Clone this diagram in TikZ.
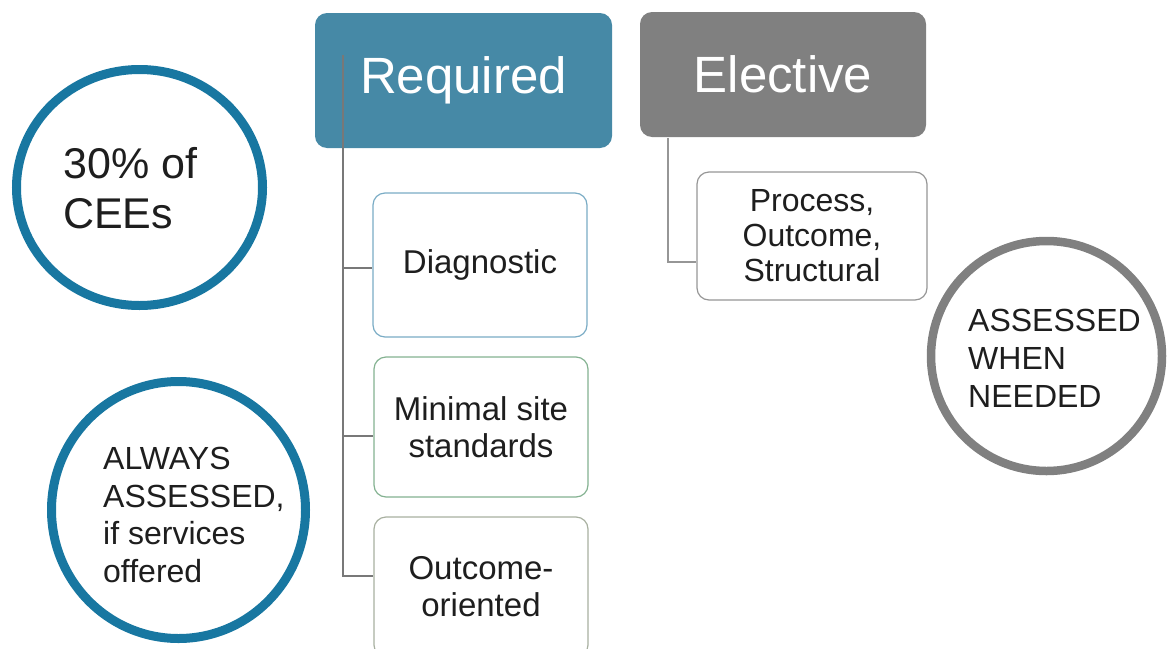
\documentclass[tikz,border=0pt]{standalone}
\usepackage{fontspec}
\setmainfont{Liberation Sans}
\usetikzlibrary{shapes.geometric}

\definecolor{reqfill}{RGB}{70,137,166}
\definecolor{elecfill}{RGB}{128,128,128}
\definecolor{ringblue}{RGB}{24,119,161}
\definecolor{ringgray}{RGB}{128,128,128}
\definecolor{diagedge}{RGB}{122,172,197}
\definecolor{mssedge}{RGB}{132,178,145}
\definecolor{outcedge}{RGB}{168,176,160}
\definecolor{procedge}{RGB}{150,150,150}
\definecolor{stemgray}{RGB}{120,120,120}
\definecolor{stemlight}{RGB}{150,150,150}
\definecolor{ink}{RGB}{30,30,30}

\tikzset{
  header/.style={rounded corners=12pt, inner sep=0pt, text=white,
    font=\fontsize{51}{56}\selectfont},
  itembox/.style={draw, fill=white, rounded corners=12pt, line width=1.2pt,
    inner sep=0pt, align=center, text=ink,
    font=\fontsize{33}{37}\selectfont},
  ring/.style={ellipse, draw, line width=9pt, inner sep=0pt},
  ringtext/.style={anchor=north west, align=left, inner sep=0pt, text=ink},
  stem/.style={draw=stemgray, line width=2.2pt},
  stemthin/.style={draw=stemlight, line width=1.5pt}
}

\begin{document}
\begin{tikzpicture}[x=1pt,y=-1pt]
\useasboundingbox (0,0) rectangle (1167,648);

% headers
\node[header, fill=reqfill, minimum width=297pt, minimum height=135pt]
  (req) at (463.5,80.5) {Required};
\node[header, fill=elecfill, minimum width=286pt, minimum height=125pt]
  (elec) at (783,74.5) {Elective};

% required items
\node[itembox, draw=diagedge, minimum width=214pt, minimum height=144pt]
  (diag) at (480,265) {Diagnostic};
\node[itembox, draw=mssedge, minimum width=214pt, minimum height=140pt]
  (mss) at (481,427) {Minimal site\\standards};
\node[itembox, draw=outcedge, minimum width=214pt, minimum height=140pt]
  (outc) at (481,587) {Outcome-\\oriented};

% elective item
\node[itembox, draw=procedge, minimum width=230pt, minimum height=128pt,
  font=\fontsize{32}{35}\selectfont]
  (proc) at (812,236) {Process,\\Outcome,\\Structural};

% connectors
\coordinate (reqstem) at (343,55);
\coordinate (elecstem) at (668,138);
\draw[stem] (reqstem) |- ([yshift=-3pt]diag.west);
\draw[stem] (reqstem) |- ([yshift=-9pt]mss.west);
\draw[stem] (reqstem) |- ([yshift=11pt]outc.west);
\draw[stemthin] (elecstem) |- ([yshift=-26pt]proc.west);

% rings
\node[ring, draw=ringblue, minimum width=246pt, minimum height=236pt]
  (cees) at (139.5,187.5) {};
\node[ringtext, font=\fontsize{43}{50}\selectfont]
  (ceestext) at (63,147) {30\% of\\CEEs};

\node[ring, draw=ringblue, minimum width=254pt, minimum height=257pt]
  (always) at (178.5,510) {};
\node[ringtext, font=\fontsize{32}{37.5}\selectfont]
  (alwaystext) at (103,447) {ALWAYS\\ASSESSED,\\if services\\offered};

\node[ring, draw=ringgray, line width=8.5pt, minimum width=231pt, minimum height=230pt]
  (needed) at (1046.5,356) {};
\node[ringtext, font=\fontsize{32}{38}\selectfont]
  (neededtext) at (968,309) {ASSESSED\\WHEN\\NEEDED};
\end{tikzpicture}
\end{document}
